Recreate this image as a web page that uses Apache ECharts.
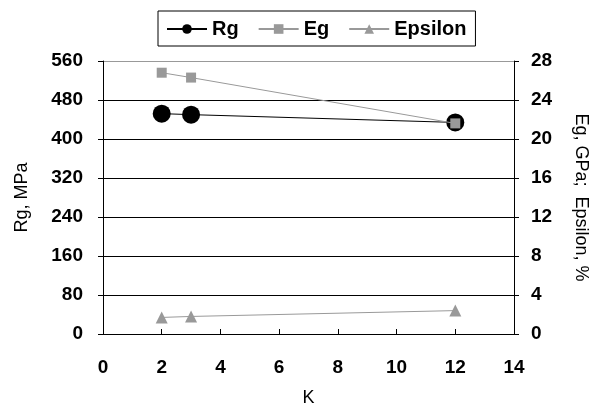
<!DOCTYPE html>
<html>
<head>
<meta charset="utf-8">
<script src="https://cdn.jsdelivr.net/npm/echarts@6/dist/echarts.min.js"></script>
<style>
  html, body { margin: 0; padding: 0; background: #fff; }
  #main { width: 600px; height: 411px; }
</style>
</head>
<body>
<div id="main"></div>
<script>
// K values (x axis)
var kValues = [2, 3, 12];
// Rg, MPa (left axis)
var rgValues = [452, 450, 434];
// Eg, GPa (right axis)
var egValues = [26.8, 26.3, 21.6];
// Epsilon, % (right axis)
var epsValues = [1.7, 1.8, 2.4];

function pairs(xs, ys) {
  var out = [];
  for (var i = 0; i < xs.length; i++) {
    out.push([xs[i], ys[i]]);
  }
  return out;
}

var font = 'Liberation Sans, Arial, sans-serif';
var chart = echarts.init(document.getElementById('main'));

var tickLabel = { fontSize: 19, fontWeight: 'bold', color: '#000', fontFamily: font };
var nameText = { fontSize: 18, color: '#000', fontFamily: font };

var option = {
  animation: false,
  textStyle: { fontFamily: font },
  legend: {
    top: 11,
    left: 158,
    padding: [8, 9, 7, 8],
    borderColor: '#000',
    borderWidth: 1,
    itemGap: 19,
    itemWidth: 40,
    itemHeight: 12,
    textStyle: { fontSize: 20, fontWeight: 'bold', color: '#000', fontFamily: font },
    data: ['Rg', 'Eg', 'Epsilon']
  },
  grid: { left: 103, right: 86, top: 61, bottom: 77, outerBoundsMode: 'none' },
  xAxis: {
    type: 'value',
    min: 0,
    max: 14,
    interval: 2,
    name: 'K',
    nameLocation: 'middle',
    nameGap: 55,
    nameTextStyle: nameText,
    axisLine: { onZero: false, lineStyle: { color: '#000', width: 1 } },
    axisTick: { inside: true, length: 5, lineStyle: { color: '#000' } },
    axisLabel: Object.assign({ margin: 24 }, tickLabel),
    splitLine: { show: false }
  },
  yAxis: [{
    type: 'value',
    min: 0,
    max: 560,
    interval: 80,
    name: 'Rg, MPa',
    nameLocation: 'middle',
    nameGap: 72,
    nameTextStyle: nameText,
    axisLine: { show: true, lineStyle: { color: '#000', width: 1 } },
    axisTick: { show: true, length: 5, lineStyle: { color: '#000' } },
    axisLabel: Object.assign({ margin: 20 }, tickLabel),
    splitLine: { show: true, lineStyle: { color: ['#000', '#000', '#000', '#000', '#000', '#000', '#000', '#999'], width: 1 } }
  }, {
    type: 'value',
    min: 0,
    max: 28,
    interval: 4,
    position: 'right',
    name: 'Eg, GPa;  Epsilon, %',
    nameLocation: 'middle',
    nameRotate: -90,
    nameGap: 58,
    nameTextStyle: nameText,
    axisLine: { show: true, lineStyle: { color: '#000', width: 1 } },
    axisTick: { show: true, length: 5, lineStyle: { color: '#000' } },
    axisLabel: Object.assign({ margin: 17 }, tickLabel),
    splitLine: { show: false }
  }],
  series: [{
    name: 'Rg',
    type: 'line',
    yAxisIndex: 0,
    data: pairs(kValues, rgValues),
    symbol: 'circle',
    symbolSize: 18,
    itemStyle: { color: '#000' },
    lineStyle: { color: '#000', width: 1 },
    z: 2
  }, {
    name: 'Eg',
    type: 'line',
    yAxisIndex: 1,
    data: pairs(kValues, egValues),
    symbol: 'rect',
    symbolSize: 10,
    itemStyle: { color: '#999' },
    lineStyle: { color: '#999', width: 1 },
    z: 3
  }, {
    name: 'Epsilon',
    type: 'line',
    yAxisIndex: 1,
    data: pairs(kValues, epsValues),
    symbol: 'triangle',
    symbolSize: 12,
    itemStyle: { color: '#999' },
    lineStyle: { color: '#999', width: 1 },
    z: 3
  }]
};

chart.setOption(option);
</script>
</body>
</html>
